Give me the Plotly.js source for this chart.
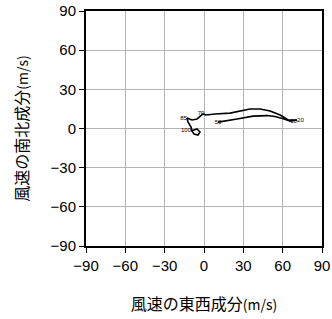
<!DOCTYPE html>
<html><head><meta charset="utf-8">
<script src="https://cdn.plot.ly/plotly-3.0.1.min.js"></script>
<style>body{margin:0;padding:0;background:#fff}</style>
</head><body>
<div id="chart" style="width:332px;height:319px"></div>
<script>
// Hodograph: east-west (u) and north-south (v) wind components, m/s
var uWind = [-9.9,-5.3,-3.1,-4.6,-7.6,-9.2,-9.9,-12.2,-13.0,-9.2,-5.3,-2.3,-0.8,1.5,8.4,19.9,29.0,35.1,42.8,50.4,58.1,64.2,71.0,65.7,61.1,54.2,48.1,37.4,25.2,10.7];
var vWind = [-1.9,-0.4,-2.7,-5.0,-4.2,-1.9,1.1,5.0,8.0,6.5,7.3,9.5,11.1,10.3,11.1,11.8,13.4,14.9,14.9,13.4,10.3,6.5,6.5,5.7,7.3,9.2,9.9,9.5,7.3,4.9];
var levelLabels = ["100","","","","","","","","85","","","70","","","","","","","","","","","20","10","","","","","","50"];
var labelPos = ["middle left","","","","","","","","middle left","","","top center","","","","","","","","","","","middle right","middle right","","","","","","middle center"];
var tickVals = [-90,-60,-30,0,30,60,90];
var tickText = ["\u221290","\u221260","\u221230","0","30","60","90"];

var trace = {
  x: uWind, y: vWind, mode: "lines+text", type: "scatter",
  line: {color: "#000", width: 1.6},
  text: levelLabels, textposition: labelPos,
  textfont: {family: "Liberation Sans, Arial, sans-serif", size: 6, color: "#000"},
  hoverinfo: "skip", cliponaxis: false
};
var axisCommon = {
  range: [-90, 90], tickvals: tickVals, ticktext: tickText,
  showgrid: true, gridcolor: "#b4b4b4", gridwidth: 1,
  zeroline: true, zerolinecolor: "#b4b4b4", zerolinewidth: 1,
  showline: true, linecolor: "#000", linewidth: 2, mirror: true,
  ticks: "outside", ticklen: 5, tickcolor: "#000", tickwidth: 1,
  tickfont: {family: "Liberation Sans, Arial, sans-serif", size: 15, color: "#000"},
  fixedrange: true
};
var layout = {
  width: 332, height: 319,
  margin: {l: 86, r: 10, t: 11, b: 73},
  paper_bgcolor: "#fff", plot_bgcolor: "#fff",
  showlegend: false,
  xaxis: Object.assign({}, axisCommon, {
    title: {text: "風速の東西成分<span style=\"font-size:14px\">(m/s)</span>", standoff: 26,
      font: {family: "Noto Sans CJK JP, sans-serif", size: 16, color: "#000"}}
  }),
  yaxis: Object.assign({}, axisCommon, {
    title: {text: "風速の南北成分<span style=\"font-size:14px\">(m/s)</span>", standoff: 18,
      font: {family: "Noto Sans CJK JP, sans-serif", size: 16, color: "#000"}}
  })
};
Plotly.newPlot("chart", [trace], layout, {displayModeBar: false, staticPlot: true});
</script>
</body></html>
